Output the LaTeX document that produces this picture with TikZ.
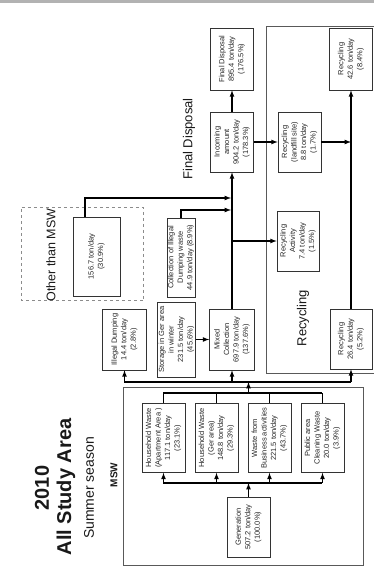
\documentclass[tikz,border=0pt]{standalone}
\usepackage{fontspec}
\setmainfont{Liberation Sans}
\usetikzlibrary{arrows}

\begin{document}
\begin{tikzpicture}[auto, node distance=53pt, x=1pt, y=1pt,
	box/.style={draw=black!80, fill=white, line width=0.6pt, align=center, inner sep=1pt,
		font=\fontsize{7.5}{9.5}\selectfont, text=black!85, minimum width=60pt, minimum height=43pt},
	flow/.style={->, >=latex, line width=1.2pt},
	bus/.style={line width=1.2pt},
	region/.style={draw=black!65, line width=0.5pt},
	title/.style={font=\fontsize{#1}{#1}\selectfont, text=black!90}]
\begin{scope}[rotate=90, transform shape]
	\useasboundingbox (0,0) rectangle (574,374);
	\draw[black!30, line width=2.5pt] (572.5,0) -- (572.5,374);

	% areas
	\draw[region] (9,11) rectangle (187,251);
	\draw[region] (201,-3) rectangle (548,108);
	\draw[region, dashed, black!45] (274,231) rectangle (367,353);

	\node[title=20] (year)   at (86,332) {\bfseries 2010};
	\node[title=20] (area)   at (87,308) {\bfseries All Study Area};
	\node[title=14] (season) at (86,285) {Summer season};
	\node[title=10] (msw)    at (99,260) {\bfseries MSW};
	\node[title=12.5] (othermsw) at (319,323) {Other than MSW};
	\node[title=13]   (reclabel) at (256,71)  {Recycling};
	\node[title=13]   (fdlabel)  at (435,185) {Final Disposal};

	% sources
	\node[box]                   (gen)   at (47,125.5)  {Generation\\507.2 ton/day\\(100.0\%)};
	\node[box, minimum width=69pt] (hwapt) at (136,210.5) {Household Waste\\(Apartment Area )\\117.1 ton/day\\(23.1\%)};
	\node[box, minimum width=69pt] (hwger) [below of=hwapt] {Household Waste\\(Ger area)\\148.8 ton/day\\(29.3\%)};
	\node[box, minimum width=69pt] (biz)   [below of=hwger] {Waste from\\Business activities\\221.5 ton/day\\(43.7\%)};
	\node[box, minimum width=69pt] (pub)   [below of=biz]   {Public area\\Cleaning Waste\\20.0 ton/day\\(3.9\%)};

	% collection
	\node[box, minimum width=61pt, minimum height=44pt] (illegal) at (234.5,249.5) {Illegal Dumping\\14.4 ton/day\\(2.8\%)};
	\node[box, minimum width=75pt, minimum height=33pt] (storage) at (234.5,197.5) {Storage in Ger area\\in winter\\231.5 ton/day\\(45.6\%)};
	\node[box, minimum width=61pt, minimum height=45pt] (mixed)   at (234.5,142)   {Mixed\\Collection\\697.9 ton/day\\(137.6\%)};
	\node[box, minimum width=79pt, minimum height=28pt] (colill)  at (316.5,193)   {Collection of Illegal\\Dumping waste\\44.9 ton/day (8.9\%)};
	\node[box, minimum width=79pt, minimum height=47pt] (other)   at (317.5,277.5) {156.7 ton/day\\(30.9\%)};

	% disposal and recycling
	\node[box] (incoming) at (432,142) {Incoming\\amount\\904.2 ton/day\\(178.3\%)};
	\node[box, minimum width=62pt] (final) [right of=incoming, node distance=83pt] {Final Disposal\\895.4 ton/day\\(176.5\%)};
	\node[box] (reclf)  [below of=incoming, node distance=67.5pt] {Recycling\\(landfill site)\\8.8 ton/day\\(1.7\%)};
	\node[box, minimum height=42pt] (recact) at (333,76) {Recycling\\Activity\\7.4 ton/day\\(1.5\%)};
	\node[box, minimum width=62pt] (rec42) at (515,23) {Recycling\\42.6 ton/day\\(8.4\%)};
	\node[box, minimum height=42pt] (rec26) at (235,23) {Recycling\\26.4 ton/day\\(5.2\%)};

	% flows
	\coordinate (bus1) at (91,125.5);
	\coordinate (bus2) at (181,125.5);
	\coordinate (bus3) at (192,125.5);
	\coordinate (j0) at (376,289);
	\coordinate (j1) at (376,143);
	\coordinate (j2) at (364,143);

	\path[flow] (gen) edge (bus1);
	\draw[bus] (hwapt.west -| bus1) -- (pub.west -| bus1);
	\draw[bus] (hwapt.east -| bus2) -- (pub.east -| bus2);
	\foreach \src in {hwapt, hwger, biz, pub} {
		\draw[flow] (\src.west -| bus1) -- (\src.west);
		\draw[bus] (\src.east) -- (\src.east -| bus2);
	}
	\path[flow] (bus2) edge (bus3);
	\draw[bus] (illegal.west -| bus3) -- (rec26.west -| bus3);
	\foreach \dst in {illegal, mixed, rec26}
		\draw[flow] (\dst.west -| bus3) -- (\dst.west);

	\path[flow] (storage) edge (mixed);
	\path[flow] (mixed) edge (incoming);
	\draw[flow] (other.east |- j0) -- (j0) -- (j1);
	\draw[flow] (colill.east) -| (j2);
	\draw[flow] (recact.north |- mixed) -- (recact.north);
	\path[flow] (incoming) edge (final);
	\path[flow] (incoming) edge (reclf);
	\draw[flow] (reclf.south) -- (reclf.south |- rec26);
	\path[flow] (rec26) edge (rec42);
\end{scope}
\end{tikzpicture}
\end{document}
